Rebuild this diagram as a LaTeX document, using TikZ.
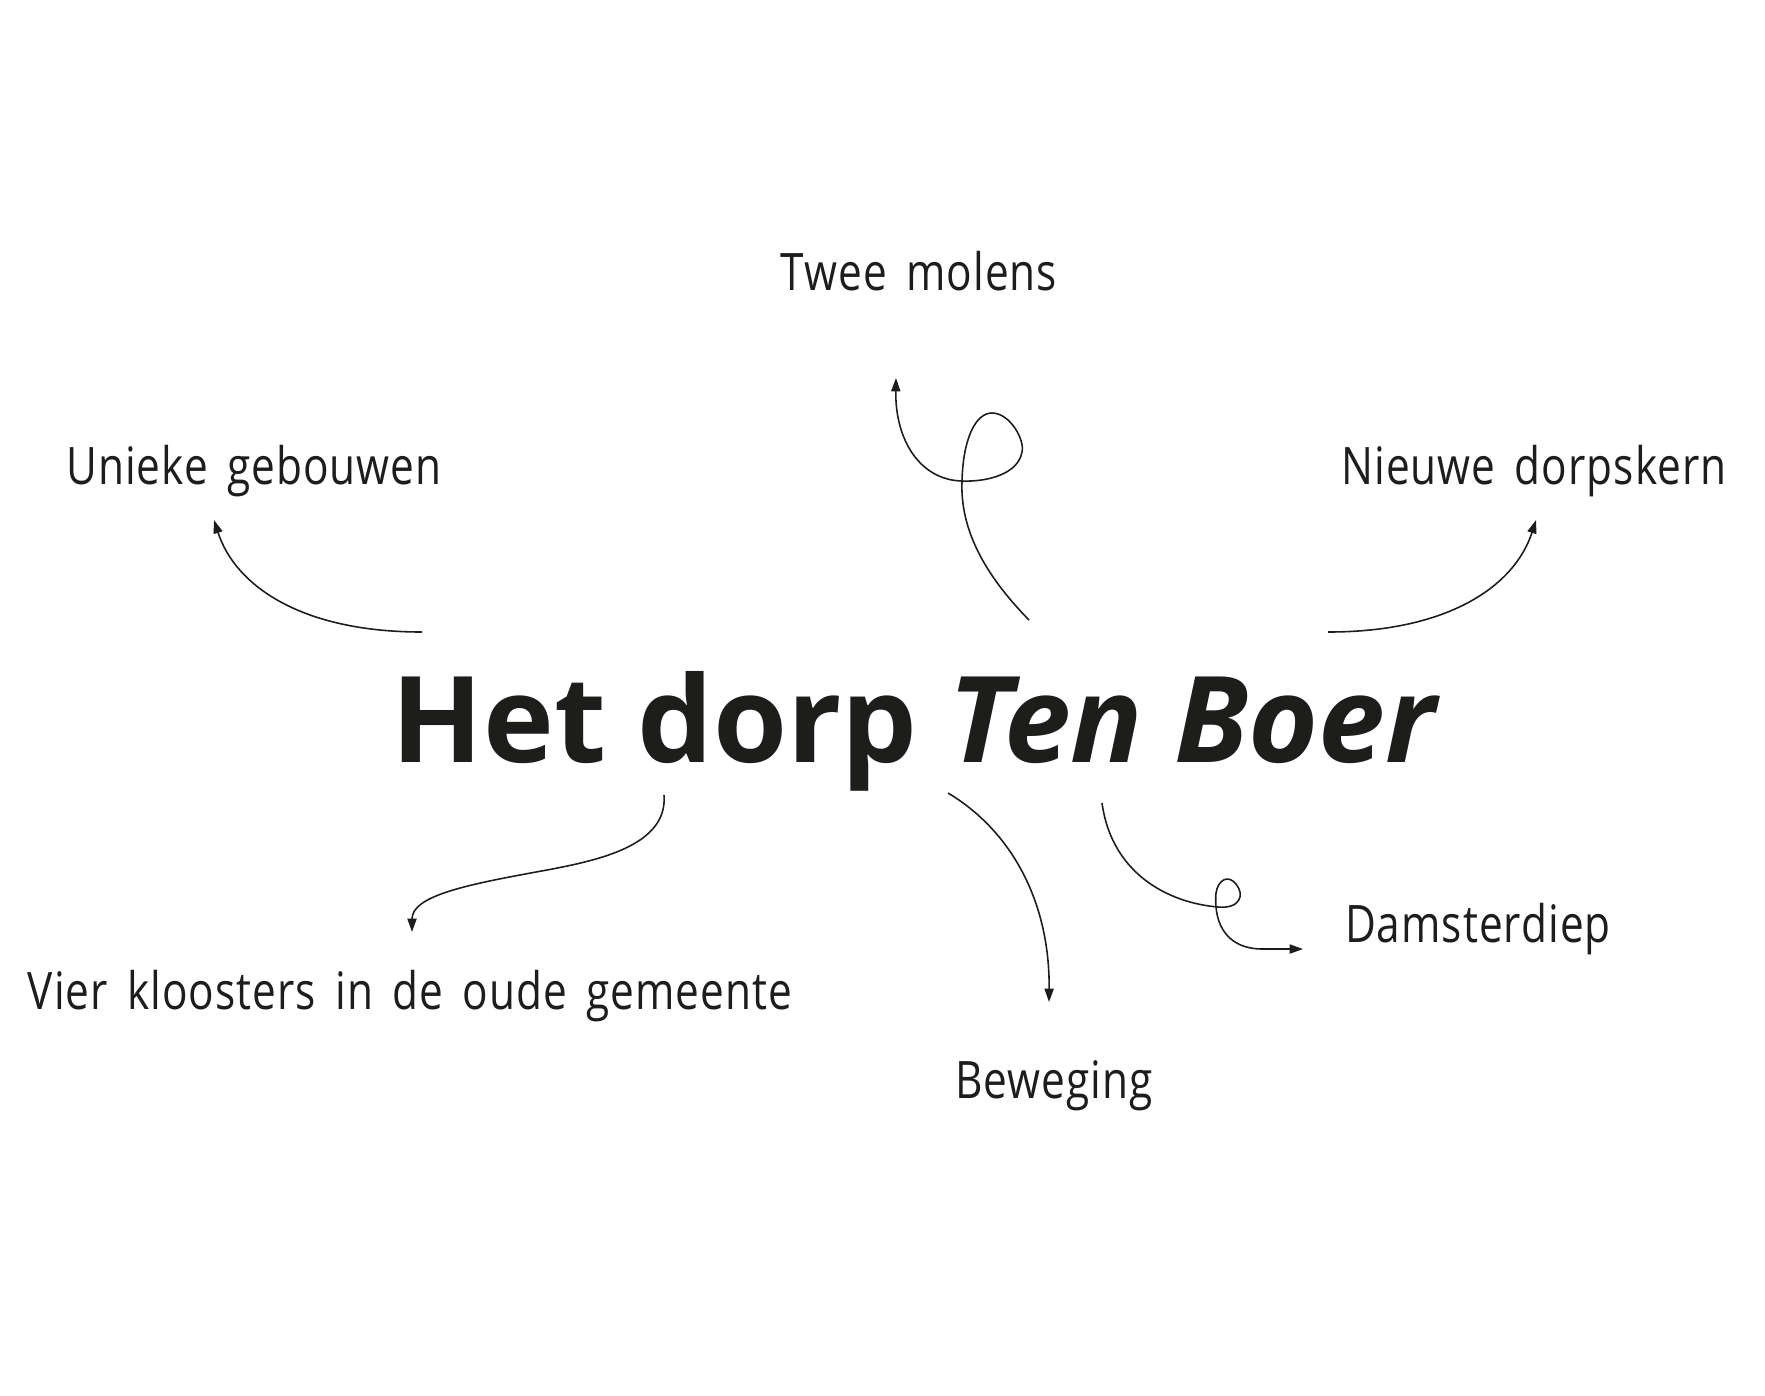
\documentclass[tikz,border=0pt]{standalone}
\usepackage{fontspec}
\setmainfont{Open Sans}
\newfontfamily\handfont{Open Sans}[FakeStretch=0.82,LetterSpace=2,WordSpace=1.6]
\usetikzlibrary{arrows.meta}
\definecolor{ink}{HTML}{1D1D1B}

\begin{document}
\begin{tikzpicture}[%
	x=0.1mm,y=-0.1mm,>={Triangle[length=3.8pt,width=2.6pt]},
	lbl/.style={font=\handfont\fontsize{14.7pt}{16pt}\selectfont,text=ink,inner sep=0pt,anchor=base},
	ttl/.style={font=\bfseries\fontsize{34.1pt}{36pt}\selectfont,text=ink,inner sep=0pt,anchor=base},
	link/.style={->,line width=0.45pt,draw=ink}]

	\useasboundingbox (0,0) rectangle (1765,1395);

	\node[ttl]	(HDTB)	at (916,762)	{Het dorp \textit{Ten Boer}};

	\node[lbl]	(TM)	at (919,290)	{Twee molens};
	\node[lbl]	(UG)	at (254,484)	{Unieke gebouwen};
	\node[lbl]	(NDK)	at (1534,484)	{Nieuwe dorpskern};
	\node[lbl]	(VK)	at (410,1009)	{Vier kloosters in de oude gemeente};
	\node[lbl]	(BW)	at (1054,1098)	{Beweging};
	\node[lbl]	(DD)	at (1478,942)	{Damsterdiep};

	% free ends of the arrows
	\coordinate (UG-s)	at (422,632);	\coordinate (UG-e)	at (214,520);
	\coordinate (NDK-s)	at (1328,632);	\coordinate (NDK-e)	at (1536,520);
	\coordinate (TM-s)	at (1029,620);	\coordinate (TM-e)	at (896,378);
	\coordinate (VK-s)	at (664,795);	\coordinate (VK-e)	at (412,932);
	\coordinate (BW-s)	at (948,793);	\coordinate (BW-e)	at (1049,1002);
	\coordinate (DD-s)	at (1102,803);	\coordinate (DD-e)	at (1303,949);

	\draw[link] (UG-s) .. controls (300,632) and (235,585) .. (UG-e);
	\draw[link] (NDK-s) .. controls (1450,632) and (1515,585) .. (NDK-e);

	\draw[link] (TM-s) .. controls (985,575) and (960,530) .. (962,481)
		.. controls (963,440) and (975,413) .. (992,413)
		.. controls (1010,413) and (1025,440) .. (1022,452)
		.. controls (1018,475) and (985,482) .. (962,481)
		.. controls (920,480) and (895,440) .. (TM-e);

	\draw[link] (VK-s) .. controls (668,845) and (600,860) .. (547,870)
		.. controls (470,884) and (412,895) .. (VK-e);

	\draw[link] (BW-s) .. controls (1010,830) and (1050,900) .. (BW-e);

	\draw[link] (DD-s) .. controls (1112,875) and (1170,903) .. (1218,907)
		.. controls (1240,909) and (1245,895) .. (1236,884)
		.. controls (1228,874) and (1218,880) .. (1216,893)
		.. controls (1214,915) and (1220,950) .. (1265,949)
		-- (DD-e);

\end{tikzpicture}
\end{document}
